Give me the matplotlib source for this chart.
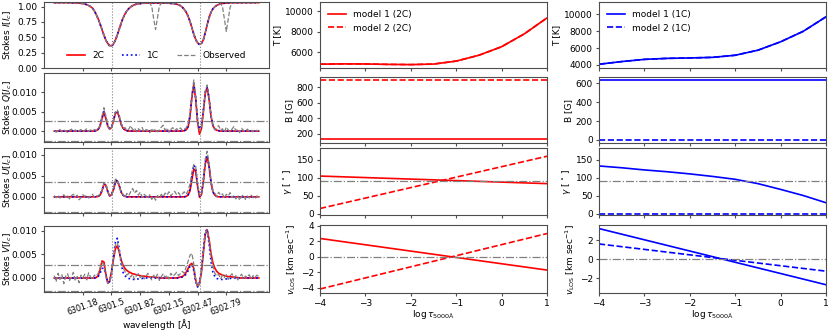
import numpy as np
import matplotlib
matplotlib.use("Agg")
import matplotlib.pyplot as plt

plt.rcParams["font.size"] = 6.5
plt.rcParams["axes.edgecolor"] = "0.3"
plt.rcParams["axes.linewidth"] = 0.8
plt.rcParams["axes.labelpad"] = 2
plt.rcParams["xtick.major.pad"] = 1.5
plt.rcParams["ytick.major.pad"] = 2
plt.rcParams["xtick.major.size"] = 2.5
plt.rcParams["ytick.major.size"] = 2.5
plt.rcParams["xtick.color"] = "0.3"
plt.rcParams["ytick.color"] = "0.3"
plt.rcParams["xtick.labelcolor"] = "black"
plt.rcParams["ytick.labelcolor"] = "black"

# wavelength sampling of the spectra [A]
WAV0 = 6300.858
WAV_STEP = 0.02147
wav_ticks = [6301.18, 6301.5, 6301.82, 6302.15, 6302.47, 6302.79]
line_centers = [6301.5012, 6302.4936]

# Stokes I / Ic
I_2C = [1.065, 1.065, 1.065, 1.065, 1.065, 1.065, 1.065, 1.064, 1.063, 1.063, 1.062, 1.061,
        1.059, 1.057, 1.054, 1.049, 1.042, 1.032, 1.018, 1.000, 0.975, 0.930, 0.870, 0.800,
        0.715, 0.625, 0.535, 0.455, 0.400, 0.365, 0.362, 0.395, 0.455, 0.540, 0.635, 0.730,
        0.815, 0.880, 0.930, 0.968, 0.995, 1.015, 1.030, 1.040, 1.046, 1.050, 1.053, 1.055,
        1.057, 1.058, 1.059, 1.059, 1.060, 1.060, 1.060, 1.059, 1.059, 1.058, 1.057, 1.056,
        1.055, 1.053, 1.050, 1.046, 1.040, 1.030, 1.015, 0.990, 0.955, 0.910, 0.845, 0.760,
        0.655, 0.550, 0.465, 0.410, 0.385, 0.400, 0.460, 0.575, 0.705, 0.820, 0.910, 0.965,
        0.998, 1.020, 1.035, 1.045, 1.051, 1.055, 1.058, 1.060, 1.062, 1.063, 1.063, 1.064,
        1.064, 1.064, 1.064, 1.065, 1.065, 1.065, 1.065, 1.065, 1.065, 1.065, 1.065, 1.065]
I_1C = [1.065, 1.065, 1.065, 1.065, 1.065, 1.065, 1.065, 1.064, 1.063, 1.063, 1.062, 1.061,
        1.059, 1.057, 1.054, 1.049, 1.042, 1.032, 1.018, 1.000, 0.975, 0.930, 0.870, 0.800,
        0.715, 0.625, 0.533, 0.452, 0.396, 0.358, 0.356, 0.390, 0.452, 0.538, 0.635, 0.730,
        0.815, 0.880, 0.930, 0.968, 0.995, 1.015, 1.030, 1.040, 1.046, 1.050, 1.053, 1.055,
        1.057, 1.058, 1.059, 1.059, 1.060, 1.060, 1.060, 1.059, 1.059, 1.058, 1.057, 1.056,
        1.055, 1.053, 1.050, 1.046, 1.040, 1.030, 1.015, 0.990, 0.955, 0.910, 0.845, 0.760,
        0.655, 0.550, 0.462, 0.405, 0.379, 0.396, 0.458, 0.575, 0.705, 0.820, 0.910, 0.965,
        0.998, 1.020, 1.035, 1.045, 1.051, 1.055, 1.058, 1.060, 1.062, 1.063, 1.063, 1.064,
        1.064, 1.064, 1.064, 1.065, 1.065, 1.065, 1.065, 1.065, 1.065, 1.065, 1.065, 1.065]
I_obs = [1.066, 1.063, 1.067, 1.064, 1.066, 1.062, 1.065, 1.066, 1.061, 1.064, 1.060, 1.063,
         1.058, 1.059, 1.052, 1.050, 1.040, 1.033, 1.015, 1.002, 0.972, 0.933, 0.866, 0.803,
         0.711, 0.628, 0.531, 0.458, 0.396, 0.362, 0.358, 0.398, 0.452, 0.544, 0.631, 0.733,
         0.812, 0.884, 0.927, 0.971, 0.992, 1.018, 1.027, 1.043, 1.044, 1.052, 1.051, 1.057,
         1.054, 1.059, 1.056, 1.005, 0.805, 0.628, 0.815, 1.010, 1.056, 1.060, 1.055, 1.058,
         1.053, 1.055, 1.048, 1.047, 1.038, 1.032, 1.012, 0.993, 0.951, 0.913, 0.841, 0.764,
         0.651, 0.554, 0.462, 0.413, 0.382, 0.403, 0.457, 0.579, 0.702, 0.824, 0.906, 0.968,
         0.995, 1.023, 1.032, 1.047, 1.000, 0.800, 0.595, 0.790, 0.990, 1.056, 1.061, 1.065,
         1.062, 1.066, 1.063, 1.065, 1.067, 1.063, 1.066, 1.064, 1.067, 1.063, 1.066, 1.064]

# Stokes Q, U, V / Ic in units of 1e-4
Q_2C = ([0] * 22 +
        [1, 4, 13, 33, 47, 33, 12, 5, 9, 26, 45, 49, 36, 17, 7, 3, 1] +
        [0] * 29 +
        [1, 3, 10, 36, 86, 119, 82, 22, -8, 6, 48, 97, 111, 82, 38, 14, 5, 2, 1] +
        [0] * 21)
Q_1C = ([0] * 22 +
        [1, 5, 15, 35, 50, 36, 15, 7, 11, 29, 48, 52, 38, 18, 8, 3, 1] +
        [0] * 29 +
        [1, 4, 12, 40, 90, 122, 86, 28, 5, 14, 55, 100, 113, 84, 40, 15, 5, 2, 1] +
        [0] * 21)
Q_obs = [2, -3, 1, 4, -2, 3, 0, -4, 2, 5, -1, 3,
         -3, 1, 4, -2, 2, 6, -1, 3, 0, 4, 2, 7,
         15, 38, 60, 37, 14, 3, 10, 28, 49, 54, 39, 20,
         6, 9, 2, 5, 14, 3, 8, -2, 6, 1, 9, -3,
         4, 2, -4, 7, 0, 5, -2, 3, 10, 15, 2, 8,
         -3, 4, 9, 1, 6, 3, 8, 2, 5, 8, 18, 45,
         92, 131, 88, 26, 1, 10, 52, 104, 118, 86, 41, 16,
         3, 9, 14, 2, 6, -3, 10, 3, -2, 5, 12, 1,
         4, -4, 7, 2, -1, 5, 0, 3, -2, 4, 1, 2]

U_2C = ([0] * 23 +
        [1, 4, 14, 30, 28, 12, 2, 5, 17, 34, 38, 26, 11, 4, 1] +
        [0] * 31 +
        [1, 4, 14, 40, 66, 60, 24, -1, 5, 35, 78, 95, 72, 35, 12, 4, 1] +
        [0] * 22)
U_1C = ([0] * 23 +
        [1, 5, 16, 31, 29, 13, 3, 6, 19, 37, 40, 27, 12, 4, 1] +
        [0] * 31 +
        [1, 5, 18, 48, 75, 68, 30, 2, 7, 40, 82, 98, 73, 35, 12, 4, 1] +
        [0] * 22)
U_obs = [3, -2, 4, -3, 1, 5, -1, 2, -5, 3, 6, 0,
         4, -7, -2, 5, 1, 3, -3, 2, 6, -1, 3, 2,
         7, 16, 33, 30, 11, 4, 2, 21, 42, 40, 28, 9,
         6, -2, 8, 3, 12, 20, 9, 15, 4, 11, -1, 6,
         2, -4, 5, -6, 1, -8, 3, -3, 6, 0, 9, 4,
         12, 2, 8, 13, 5, 10, 3, 7, 12, 6, 15, 30,
         58, 77, 72, 30, 5, 3, 42, 90, 108, 78, 37, 12,
         9, 1, 11, 4, 7, -3, 6, 2, 10, -2, 4, -5,
         3, -8, 1, 5, -6, 2, -3, 4, -1, -5, 2, 0]

V_2C = ([0] * 22 +
        [1, 5, 18, 36, 34, 8, -11, -6, 14, 40, 62, 68, 55, 38,
         27, 20, 16, 13, 11, 9, 8, 7, 6, 5, 4, 4,
         3, 3, 2, 2, 2, 1, 1, 1] +
        [0] * 9 +
        [1, 2, 3, 6, 12, 20, 28,
         31, 20, -4, -18, -12, 12, 52, 92, 102, 82, 52, 32,
         21, 14, 10, 8, 6, 5, 4, 3, 3, 2, 2, 1, 1] +
        [0] * 11)
V_1C = ([0] * 22 +
        [1, 3, 10, 20, 21, 6, -9, -8, 10, 45, 76, 84, 62, 30,
         12, 5, 1, -1, -2, -3, -3, -2, -2, -1, -1] +
        [0] * 19 +
        [1, 2, 4, 8, 15, 25,
         28, 16, -8, -19, -9, 18, 62, 98, 103, 72, 35, 12,
         3, -1, -2, -3, -3, -2, -2, -1, -1] +
        [0] * 15)
V_obs = [5, -8, 10, -3, 7, -12, 4, 9, -5, 2, 12, -6,
         3, -10, 6, 1, 8, -4, 11, 2, -3, 6, 4, 10,
         22, 33, 28, 3, -12, -9, 12, 44, 70, 75, 58, 35,
         22, 14, 6, 10, 2, 8, -3, 5, 9, 1, 7, -2,
         4, 10, 3, -4, 6, 0, 8, -5, 3, 9, 1, 6,
         -2, 10, 4, 7, 12, 5, 9, 14, 10, 24, 35, 48,
         52, 30, -4, -19, -12, 15, 58, 95, 101, 78, 45, 24,
         10, 4, 8, -2, 6, 1, 7, -3, 4, 9, 0, 5,
         -4, 3, 8, -1, 4, 2, 7, -2, 5, 1, 6, 3]

# noise levels drawn as +/- thresholds
thresh_Q = 0.0026
thresh_U = 0.0036
thresh_V = 0.0028

# atmospheres
logtau = [-4, -3.5, -3, -2.5, -2, -1.5, -1, -0.5, 0, 0.5, 1]
logtau_ends = [-4, 1]
T_2C = [4850, 4880, 4870, 4830, 4810, 4860, 5150, 5720, 6550, 7800, 9350]
T_1C = [4080, 4400, 4660, 4780, 4830, 4900, 5150, 5750, 6750, 8000, 9720]
B_2C_m1 = [130, 130]
B_2C_m2 = [900, 900]
B_1C_m1 = [635, 635]
B_1C_m2 = [0, 0]
gam_2C_m1 = [105, 84]
gam_2C_m2 = [15, 160]
gam_1C_m1 = [133, 128, 122, 117, 111, 104, 96, 84, 68, 51, 31]
gam_1C_m2 = [0, 0]
vlos_2C_m1 = [2.38, -1.73]
vlos_2C_m2 = [-4.19, 3.02]
vlos_1C_m1 = [3.19, -2.65]
vlos_1C_m2 = [1.59, -1.24]

W, H = 831, 333


def px_axes(fig, x0, x1, y0, y1):
    return fig.add_axes([x0 / W, 1 - y1 / H, (x1 - x0) / W, (y1 - y0) / H])


fig = plt.figure(figsize=(W / 100, H / 100), dpi=100)

wav = WAV0 + WAV_STEP * np.arange(len(I_obs))

left_rows = [(1.7, 68), (73.3, 142), (148.3, 213.3), (226, 291.7)]
right_rows = [(2, 68.3), (76.7, 143.3), (148.3, 215), (225, 293.3)]

# ---- Stokes profiles ----
stokes = [("I", I_2C, I_1C, I_obs, 1.0, None, (0, 1.08)),
          ("Q", Q_2C, Q_1C, Q_obs, 1e-4, thresh_Q, (-0.0028, 0.0148)),
          ("U", U_2C, U_1C, U_obs, 1e-4, thresh_U, (-0.0039, 0.0115)),
          ("V", V_2C, V_1C, V_obs, 1e-4, thresh_V, (-0.0029, 0.0110))]
for i, (name, p2, p1, po, scale, th, ylim) in enumerate(stokes):
    ax = px_axes(fig, 44, 269, *left_rows[i])
    ax.plot(wav, np.array(p2) * scale, color="red", lw=1.2, label="2C")
    ax.plot(wav, np.array(p1) * scale, color="blue", ls=":", lw=1.2, label="1C")
    ax.plot(wav, np.array(po) * scale, color="gray", ls="--", lw=0.9, label="Observed")
    for lc in line_centers:
        ax.axvline(lc, color="gray", ls=":", lw=0.8)
    if th is not None:
        ax.axhline(th, color="gray", ls="-.", lw=0.9)
        ax.axhline(-th, color="gray", ls="-.", lw=0.9)
    ax.set_xlim(6300.743, 6303.270)
    ax.set_ylim(*ylim)
    ax.set_ylabel(r"Stokes $%s[I_c]$" % name)
    ax.yaxis.set_label_coords(-0.135, 0.5)
    ax.set_xticks(wav_ticks)
    if name == "I":
        ax.set_yticks([0, 0.25, 0.5, 0.75, 1.0])
        ax.legend(loc="lower center", ncol=3, frameon=False, fontsize=6.5)
    else:
        ax.set_yticks([0, 0.005, 0.010])
        ax.yaxis.set_major_formatter(matplotlib.ticker.FormatStrFormatter("%.3f"))
    if name == "V":
        ax.set_xticklabels([str(t) for t in wav_ticks], rotation=20, fontsize=5.8)
        ax.set_xlabel(r"wavelength [$\rm\AA$]", labelpad=0)
    else:
        ax.set_xticklabels([])

# ---- atmosphere panels ----
cols = [(320, 547, "red", "2C", T_2C, B_2C_m1, B_2C_m2, gam_2C_m1, gam_2C_m2,
         vlos_2C_m1, vlos_2C_m2,
         [(4450, 10900), (80, 937), (-3, 182), (-4.75, 4.13)],
         [6000, 8000, 10000], [200, 400, 600, 800], [-4, -2, 0, 2, 4]),
        (599, 826, "blue", "1C", T_1C, B_1C_m1, B_1C_m2, gam_1C_m1, gam_1C_m2,
         vlos_1C_m1, vlos_1C_m2,
         [(3600, 11480), (-35, 670), (-3, 182), (-3.54, 3.56)],
         [4000, 6000, 8000, 10000], [0, 200, 400, 600], [-2, 0, 2])]

for (x0, x1, c, tag, T, B1, B2, g1, g2, v1, v2, lims, tT, tB, tV) in cols:
    axT = px_axes(fig, x0, x1, *right_rows[0])
    axT.plot(logtau, T, color=c, lw=1.2, label="model 1 (%s)" % tag)
    axT.plot(logtau, T, color=c, ls="--", lw=1.2, label="model 2 (%s)" % tag)
    axT.set_ylabel("T [K]")
    axT.set_yticks(tT)
    axT.legend(loc="upper left", frameon=False, fontsize=6.5)

    axB = px_axes(fig, x0, x1, *right_rows[1])
    axB.plot(logtau_ends, B1, color=c, lw=1.2)
    axB.plot(logtau_ends, B2, color=c, ls="--", lw=1.2)
    axB.set_ylabel("B [G]")
    axB.set_yticks(tB)

    axG = px_axes(fig, x0, x1, *right_rows[2])
    axG.plot(logtau if len(g1) > 2 else logtau_ends, g1, color=c, lw=1.2)
    axG.plot(logtau_ends, g2, color=c, ls="--", lw=1.2)
    axG.axhline(90, color="gray", ls="-.", lw=0.9)
    axG.set_ylabel(r"$\gamma$ [ $^{\circ}$ ]")
    axG.set_yticks([0, 50, 100, 150])

    axV = px_axes(fig, x0, x1, *right_rows[3])
    axV.plot(logtau_ends, v1, color=c, lw=1.2)
    axV.plot(logtau_ends, v2, color=c, ls="--", lw=1.2)
    axV.axhline(0, color="gray", ls="-.", lw=0.9)
    axV.set_ylabel(r"$v_{\rm LOS}$ [km sec$^{-1}$]")
    axV.set_yticks(tV)
    axV.set_xlabel(r"$\log\tau_{5000\rm\AA}$", labelpad=0)

    for ax, lim in zip([axT, axB, axG, axV], lims):
        ax.set_xlim(-4, 1)
        ax.set_ylim(*lim)
        ax.set_xticks([-4, -3, -2, -1, 0, 1])
        if ax is not axV:
            ax.set_xticklabels([])

fig.savefig("out.png", dpi=100)
